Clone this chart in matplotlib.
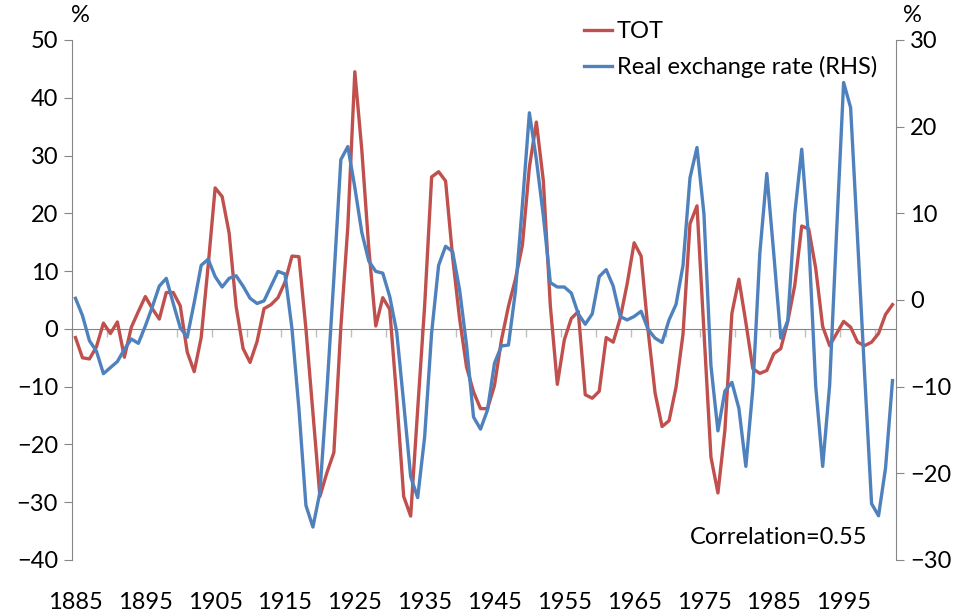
import matplotlib
matplotlib.use('Agg')
import matplotlib.pyplot as plt
from matplotlib.lines import Line2D

plt.rcParams['font.family'] = ['Lato', 'DejaVu Sans']

# annual data, 1885-2002
years = list(range(1885, 2003))

tot = [-1.5, -5.0, -5.2, -3.1, 1.0, -0.8, 1.2, -4.9, 0.3, 3.0,
       5.6, 3.5, 1.7, 6.3, 6.3, 4.0, -4.0, -7.4, -1.5, 11.0,
       24.4, 22.9, 16.6, 3.9, -3.4, -5.8, -2.2, 3.5, 4.2, 5.4,
       8.1, 12.6, 12.5, 0.0, -14.5, -29.0, -24.9, -21.4, 0.3, 17.7,
       44.5, 31.0, 14.0, 0.5, 5.4, 3.4, -12.0, -29.0, -32.4, -14.0,
       4.0, 26.3, 27.2, 25.6, 12.5, 1.8, -6.6, -10.9, -13.8, -13.8,
       -9.8, -1.9, 3.9, 8.6, 14.5, 28.0, 35.8, 25.6, 4.0, -9.6,
       -1.9, 1.8, 3.0, -11.4, -12.0, -10.8, -1.5, -2.3, 1.8, 7.8,
       14.9, 12.6, -0.3, -11.1, -16.9, -15.9, -10.1, -0.9, 18.2, 21.3,
       -0.5, -22.2, -28.4, -17.5, 2.7, 8.6, 1.1, -6.9, -7.7, -7.2,
       -4.3, -3.4, 1.3, 7.5, 17.8, 17.3, 10.5, 0.4, -2.9, -0.8,
       1.3, 0.3, -2.3, -2.9, -2.3, -0.8, 2.5, 4.2]

rer = [0.2, -1.8, -4.7, -5.9, -8.5, -7.8, -7.1, -5.7, -4.5, -5.0,
       -3.0, -0.8, 1.6, 2.5, -0.4, -3.2, -4.3, -0.3, 4.0, 4.7,
       2.7, 1.5, 2.5, 2.8, 1.6, 0.2, -0.4, -0.1, 1.6, 3.3,
       3.0, -3.3, -12.6, -23.7, -26.2, -22.2, -10.5, 2.5, 16.2, 17.7,
       13.0, 7.8, 4.5, 3.3, 3.1, 0.4, -3.7, -11.9, -20.4, -22.8,
       -15.8, -3.8, 4.0, 6.2, 5.6, 1.2, -5.2, -13.5, -14.9, -12.7,
       -7.3, -5.3, -5.2, 1.0, 11.0, 21.6, 16.2, 9.7, 2.0, 1.5,
       1.5, 0.8, -1.6, -2.8, -1.6, 2.7, 3.5, 1.6, -1.9, -2.3,
       -1.9, -1.3, -3.4, -4.4, -4.9, -2.3, -0.5, 4.0, 14.1, 17.6,
       9.9, -7.6, -15.1, -10.5, -9.5, -12.5, -19.2, -10.2, 5.4, 14.6,
       5.3, -4.4, -2.4, 9.9, 17.4, 7.0, -9.9, -19.2, -9.8, 8.0,
       25.1, 22.2, 7.0, -8.5, -23.5, -24.9, -19.4, -9.3]

red = '#C0504D'
blue = '#4F81BD'
grey = '#868686'
fs = 17

fig = plt.figure(figsize=(9.57, 6.13), dpi=100)
ax = fig.add_axes([72/957, 1-560/613, (896-72)/957, 520/613])
ax2 = ax.twinx()

x = list(range(len(years)))
ax.plot(x, tot, color=red, lw=2.4, zorder=3)
ax2.plot(x, rer, color=blue, lw=2.4, zorder=3)

ax.set_xlim(-0.5, len(years) - 0.5)
ax.set_ylim(-40, 50)
ax.set_yticks(range(-40, 51, 10))
ax2.set_ylim(-30, 30)
ax2.set_yticks(range(-30, 31, 10))

# category axis sits on the zero line of the left scale
for s in ['top', 'right']:
    ax.spines[s].set_visible(False)
ax.spines['bottom'].set_position(('data', 0))
ax.spines['bottom'].set_color(grey)
ax.spines['left'].set_color(grey)
for s in ['top', 'left', 'bottom']:
    ax2.spines[s].set_visible(False)
ax2.spines['right'].set_color(grey)

ax.set_xticks([])
ax.set_xticks([b - 0.5 for b in range(0, len(years) + 1, 5)], minor=True)
ax.tick_params(axis='x', which='minor', direction='out', length=6, color='#BFBFBF', width=1)
ax.tick_params(axis='y', direction='out', length=6, color=grey, labelsize=fs, pad=4)
ax2.tick_params(axis='y', direction='out', length=6, color=grey, labelsize=fs, pad=4)

# year labels at the bottom of the plot
sec = ax.secondary_xaxis('bottom')
sec.set_xticks(x[::10], labels=[str(y) for y in years[::10]])
sec.spines['bottom'].set_visible(False)
sec.tick_params(length=0, labelsize=fs, pad=23)

fig.text(80/957, 1-16/613, '%', fontsize=fs, ha='center', va='center')
fig.text(912/957, 1-16/613, '%', fontsize=fs, ha='center', va='center')

handles = [Line2D([], [], color=red, lw=2.4, label='TOT'),
           Line2D([], [], color=blue, lw=2.4, label='Real exchange rate (RHS)')]
fig.legend(handles=handles, loc='upper left', bbox_to_anchor=(584/957, 1-21/613),
           frameon=False, fontsize=fs, handlelength=1.2, handletextpad=0.2,
           labelspacing=0.6, borderpad=0, borderaxespad=0)

ax.text(0.858, 0.044, 'Correlation=0.55', transform=ax.transAxes,
        fontsize=fs, ha='center', va='center')

fig.savefig('out.png', dpi=100)
